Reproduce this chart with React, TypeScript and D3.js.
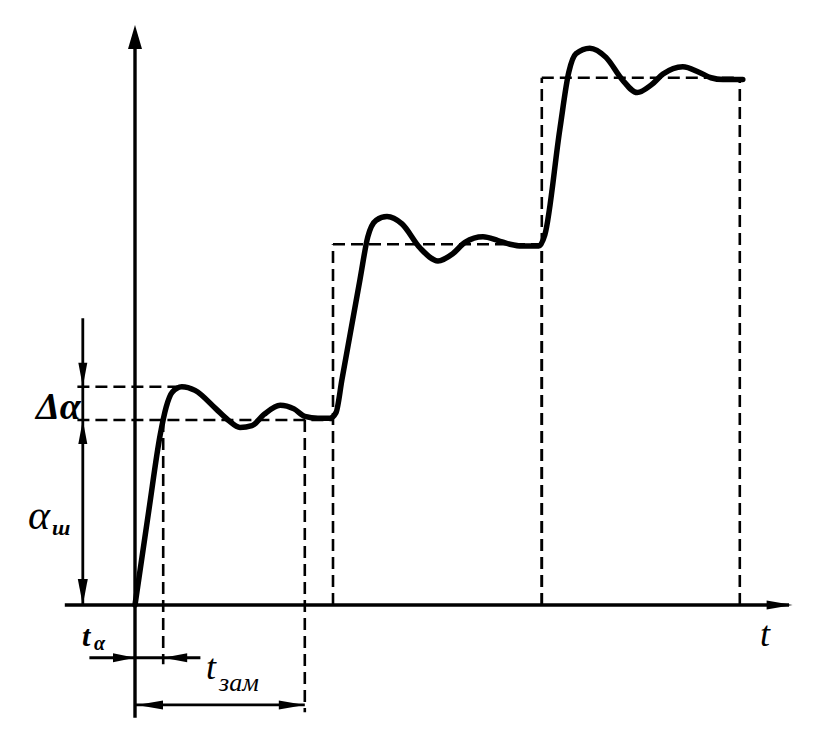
import * as d3 from 'd3';

// Transient response, three successive steps
const stepStart = [0, 33, 67.8];
const stepEnd = [33, 67.8, 100.8];
const stepLevel = [1, 1.95, 2.85];

const responseT = [
  0, 2.3, 4.2, 5.2, 6.2, 7.8, 10, 13.5, 15.5, 17.5, 19.5, 21.5, 24.2, 26.5, 28.3, 30.5, 32.5,
  33.5, 34.5, 37.5, 38.8, 40.2, 42, 44.5, 47.5, 50.5, 53, 55, 58, 60.5, 62.5, 64.5, 67.3,
  68.3, 70.8, 72.3, 73.5, 75.8, 78.5, 81.2, 83.7, 86, 88, 91.3, 94, 96, 98, 101.3,
];
const responseY = [
  0, 0.51, 0.92, 1.07, 1.15, 1.18, 1.16, 1.06, 1.0, 0.96, 0.97, 1.03, 1.08, 1.06, 1.02, 1.01, 1.01,
  1.04, 1.22, 1.76, 1.99, 2.08, 2.1, 2.06, 1.93, 1.86, 1.9, 1.96, 1.99, 1.97, 1.95, 1.94, 1.94,
  2.0, 2.57, 2.88, 2.98, 3.01, 2.96, 2.84, 2.77, 2.81, 2.87, 2.91, 2.88, 2.85, 2.84, 2.84,
];

const peakValue = 1.18;
const peakTime = 7.5;
const tAlpha = 4.7;
const tZam = 28.3;

const W = 834;
const H = 739;

function arrowHead(tx: number, ty: number, dx: number, dy: number, len: number, half: number) {
  const bx = tx - dx * len;
  const by = ty - dy * len;
  const px = -dy * half;
  const py = dx * half;
  return `M${tx},${ty}L${bx + px},${by + py}L${bx - px},${by - py}Z`;
}

export default function App() {
  const x = d3.scaleLinear().domain([0, 100]).range([135, 735]);
  const y = d3.scaleLinear().domain([0, 1]).range([605, 420]);

  const pts: [number, number][] = responseT.map((t, i) => [t, responseY[i]]);
  const line = d3
    .line<[number, number]>()
    .x(d => x(d[0]))
    .y(d => y(d[1]))
    .curve(d3.curveMonotoneX);

  const dash = '12,6';
  const dimX = x(-8.7);
  const leftDash = x(-9.6);
  const tAlphaDimY = y(-0.285);
  const tZamDimY = y(-0.54);
  const font = "'Liberation Serif', 'DejaVu Serif', serif";

  return (
    <svg width={W} height={H} style={{ position: 'absolute', left: 0, top: 0, background: '#fff' }}>
      <rect width={W} height={H} fill="#fff" />

      {/* dashed step levels */}
      <g stroke="#000" strokeWidth={2.6} strokeDasharray={dash} fill="none">
        <line x1={leftDash} x2={x(stepEnd[0])} y1={y(stepLevel[0])} y2={y(stepLevel[0])} />
        <line x1={leftDash} x2={x(peakTime)} y1={y(peakValue)} y2={y(peakValue)} />
        {stepLevel.slice(1).map((lv, i) => (
          <g key={i}>
            <line x1={x(stepStart[i + 1])} x2={x(stepEnd[i + 1])} y1={y(lv)} y2={y(lv)} />
            <line x1={x(stepStart[i + 1])} x2={x(stepStart[i + 1])} y1={y(0)} y2={y(lv)} />
            <line x1={x(stepEnd[i + 1])} x2={x(stepEnd[i + 1])} y1={y(0)} y2={y(lv)} />
          </g>
        ))}
        <line x1={x(tAlpha)} x2={x(tAlpha)} y1={y(stepLevel[0])} y2={y(-0.32)} />
        <line x1={x(tZam)} x2={x(tZam)} y1={y(stepLevel[0])} y2={y(-0.58)} />
      </g>

      {/* axes */}
      <g stroke="#000" strokeWidth={3.4}>
        <line x1={x(-11.7)} x2={x(109)} y1={y(0)} y2={y(0)} />
        <line x1={x(0)} x2={x(0)} y1={y(-0.61)} y2={y(3.05)} />
      </g>
      <path d={arrowHead(x(0), y(3.135), 0, -1, 24, 7)} fill="#000" />
      <path d={arrowHead(x(109.6), y(0), 1, 0, 26, 4.5)} fill="#000" />

      {/* response curve */}
      <path d={line(pts) ?? ''} fill="none" stroke="#000" strokeWidth={5.5} strokeLinejoin="round" strokeLinecap="round" />

      {/* amplitude dimension line */}
      <line x1={dimX} x2={dimX} y1={y(1.55)} y2={y(0)} stroke="#000" strokeWidth={2.8} />
      <path d={arrowHead(dimX, y(peakValue), 0, 1, 24, 4.5)} fill="#000" />
      <path d={arrowHead(dimX, y(stepLevel[0]), 0, -1, 24, 4.5)} fill="#000" />
      <path d={arrowHead(dimX, y(0), 0, 1, 26, 5)} fill="#000" />

      {/* time dimension lines */}
      <line x1={x(-7.6)} x2={x(10.9)} y1={tAlphaDimY} y2={tAlphaDimY} stroke="#000" strokeWidth={2.8} />
      <path d={arrowHead(x(0), tAlphaDimY, 1, 0, 22, 4.5)} fill="#000" />
      <path d={arrowHead(x(tAlpha), tAlphaDimY, -1, 0, 24, 4.5)} fill="#000" />
      <line x1={x(0)} x2={x(tZam)} y1={tZamDimY} y2={tZamDimY} stroke="#000" strokeWidth={2.8} />
      <path d={arrowHead(x(0) + 2, tZamDimY, -1, 0, 26, 4.5)} fill="#000" />
      <path d={arrowHead(x(tZam), tZamDimY, 1, 0, 26, 4.5)} fill="#000" />

      {/* labels */}
      <g fontFamily={font} fontStyle="italic" fill="#000">
        <text x={36} y={y(stepLevel[0]) - 1} fontSize={38} fontWeight="bold">Δα</text>
        <text x={28} y={y(0.41)} fontSize={42}>α</text>
        <text x={52} y={y(0.38)} fontSize={22} fontWeight="bold">ш</text>
        <text x={82} y={tAlphaDimY - 12} fontSize={30} fontWeight="bold">t</text>
        <text x={94} y={tAlphaDimY - 8} fontSize={20} fontWeight="bold">α</text>
        <text x={206} y={tZamDimY - 26} fontSize={36}>t</text>
        <text x={219} y={tZamDimY - 14} fontSize={26}>зам</text>
        <text x={760} y={y(-0.22)} fontSize={36}>t</text>
      </g>
    </svg>
  );
}
